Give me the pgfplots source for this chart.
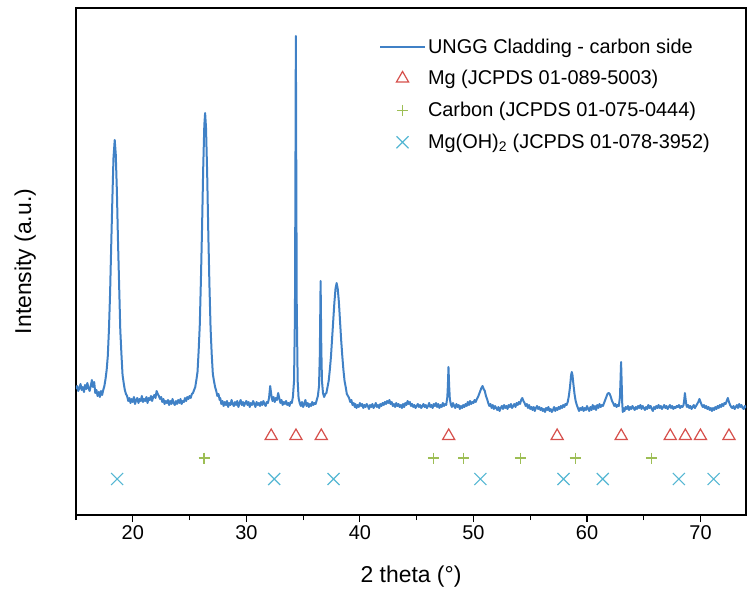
\documentclass[border=0pt]{standalone}
\usepackage{fontspec}
\setmainfont{Liberation Sans}
\usepackage{pgfplots}
\pgfplotsset{compat=1.18}
\definecolor{lineblue}{HTML}{4081C6}
\definecolor{mgred}{HTML}{D6504C}
\definecolor{cgreen}{HTML}{9DBE55}
\definecolor{ohcyan}{HTML}{55B7D3}
\begin{document}
\begin{tikzpicture}
\path[use as bounding box] (-76bp,-74bp) rectangle (672bp,515bp);
\begin{axis}[
  at={(0,0)}, anchor=south west,
  scale only axis, width=670bp, height=507bp,
  xmin=15, xmax=74, ymin=0, ymax=507,
  axis line style={line width=1.2bp},
  xtick={20,30,...,70}, minor xtick={15,25,...,65},
  xtick pos=left, ytick=\empty,
  tick align=outside, major tick length=7bp, minor tick length=5bp,
  every tick/.style={black, line width=1.2bp},
  ticklabel style={font=\fontsize{20}{24}\selectfont},
  /pgf/number format/assume math mode=true,
  xlabel={2 theta (°)}, ylabel={Intensity (a.u.)},
  label style={font=\fontsize{23}{27}\selectfont},
  xlabel style={at={(axis description cs:0.5,-0.122)}, anchor=center},
  ylabel style={at={(axis description cs:-0.076,0.5)}, anchor=center},
  legend cell align=left,
  legend style={at={(0.452,0.944)}, anchor=north west, draw=none, fill=none,
    font=\fontsize{20}{24}\selectfont, row sep=12bp, inner sep=0pt},
  legend image code/.code={\draw[mark repeat=2,mark phase=2,#1] plot coordinates {(0bp,0bp) (22.5bp,0bp) (45bp,0bp)};},
]
\addplot[lineblue, line width=2bp, line join=round, mark=none] coordinates {
(15.0,126) (15.1,129) (15.2,124) (15.3,127) (15.4,131) (15.5,125) (15.6,128) (15.7,123) (15.8,130) (15.9,126)
(16.0,132) (16.1,127) (16.2,124) (16.3,129) (16.4,135) (16.5,128) (16.6,133) (16.7,122) (16.8,125) (16.9,119)
(17.0,123) (17.1,118) (17.2,124) (17.3,120) (17.4,125) (17.5,129) (17.6,136) (17.7,145) (17.8,159) (17.9,185)
(18.0,221) (18.1,269) (18.2,315) (18.3,357) (18.41,375) (18.5,361) (18.6,324) (18.7,273) (18.8,229) (18.9,185)
(19.0,161) (19.1,140) (19.2,132) (19.3,125) (19.4,121) (19.5,119) (19.6,114) (19.7,117) (19.8,112) (19.9,116)
(20.0,113) (20.1,118) (20.2,111) (20.3,115) (20.4,117) (20.5,112) (20.6,116) (20.7,114) (20.8,119) (20.9,113)
(21.0,116) (21.1,114) (21.2,118) (21.3,112) (21.4,117) (21.5,115) (21.6,119) (21.7,114) (21.8,118) (21.9,120)
(22.0,117) (22.1,124) (22.2,121) (22.3,119) (22.4,116) (22.5,118) (22.6,113) (22.7,116) (22.8,111) (22.9,114)
(23.0,112) (23.1,115) (23.2,110) (23.3,114) (23.4,111) (23.5,116) (23.6,112) (23.7,110) (23.8,114) (23.9,111)
(24.0,115) (24.1,112) (24.2,116) (24.3,111) (24.4,114) (24.5,113) (24.6,117) (24.7,114) (24.8,118) (24.9,116)
(25.0,119) (25.1,117) (25.2,121) (25.3,122) (25.4,125) (25.5,128) (25.6,135) (25.7,143) (25.8,164) (25.9,190)
(26.0,235) (26.1,287) (26.2,346) (26.3,390) (26.37,402) (26.45,387) (26.55,342) (26.65,282) (26.75,230) (26.85,187)
(26.95,161) (27.05,141) (27.15,134) (27.25,128) (27.35,124) (27.45,119) (27.55,121) (27.65,115) (27.7,117) (27.8,111)
(27.9,114) (28.0,109) (28.1,113) (28.2,110) (28.3,114) (28.4,108) (28.5,112) (28.6,110) (28.7,115) (28.8,111)
(28.9,109) (29.0,113) (29.1,110) (29.2,114) (29.3,108) (29.4,112) (29.5,115) (29.6,110) (29.7,113) (29.8,109)
(29.9,112) (30.0,114) (30.1,110) (30.2,113) (30.3,108) (30.4,112) (30.5,110) (30.6,114) (30.7,111) (30.8,108)
(30.9,113) (31.0,110) (31.1,112) (31.2,109) (31.3,113) (31.4,110) (31.5,114) (31.6,111) (31.7,109) (31.8,113)
(31.9,112) (32.0,117) (32.1,129) (32.2,120) (32.3,114) (32.4,118) (32.5,113) (32.6,117) (32.7,115) (32.8,122)
(32.9,117) (33.0,112) (33.1,115) (33.2,110) (33.3,113) (33.4,111) (33.5,114) (33.6,110) (33.7,112) (33.8,109)
(33.9,113) (34.0,112) (34.1,118) (34.2,134) (34.28,200) (34.32,330) (34.36,479) (34.40,338) (34.44,208) (34.52,134)
(34.6,117) (34.7,112) (34.8,109) (34.9,113) (35.0,108) (35.1,111) (35.2,115) (35.3,109) (35.4,112) (35.5,108)
(35.6,111) (35.7,109) (35.8,113) (35.9,110) (36.0,112) (36.1,111) (36.2,115) (36.3,119) (36.4,129) (36.47,160)
(36.54,234) (36.6,168) (36.66,134) (36.75,122) (36.85,118) (36.95,121) (37.05,122) (37.15,128) (37.25,134) (37.35,145)
(37.45,158) (37.55,176) (37.65,194) (37.75,212) (37.85,226) (37.95,232) (38.05,226) (38.15,213) (38.25,194) (38.35,175)
(38.45,159) (38.55,145) (38.65,134) (38.75,128) (38.85,121) (38.95,119) (39.05,117) (39.15,113) (39.25,115) (39.35,110)
(39.45,112) (39.55,108) (39.6,111) (39.7,107) (39.8,110) (39.9,108) (40.0,112) (40.1,109) (40.2,111) (40.3,107)
(40.4,110) (40.5,108) (40.6,111) (40.7,109) (40.8,106) (40.9,110) (41.0,108) (41.1,111) (41.2,107) (41.3,109)
(41.4,112) (41.5,108) (41.6,110) (41.7,107) (41.8,111) (41.9,109) (42.0,112) (42.1,110) (42.2,113) (42.3,111)
(42.4,114) (42.5,112) (42.6,115) (42.7,111) (42.8,113) (42.9,109) (43.0,111) (43.1,108) (43.2,112) (43.3,109)
(43.4,111) (43.5,108) (43.6,110) (43.7,107) (43.8,111) (43.9,108) (44.0,112) (44.1,110) (44.2,114) (44.3,111)
(44.4,113) (44.5,109) (44.6,111) (44.7,108) (44.8,110) (44.9,107) (45.0,109) (45.1,111) (45.2,108) (45.3,110)
(45.4,107) (45.5,109) (45.6,111) (45.7,108) (45.8,110) (45.9,107) (46.0,109) (46.1,112) (46.2,108) (46.3,110)
(46.4,107) (46.5,111) (46.6,109) (46.7,112) (46.8,108) (46.9,111) (47.0,107) (47.1,110) (47.2,108) (47.3,112)
(47.4,109) (47.5,111) (47.6,110) (47.7,118) (47.75,130) (47.8,148) (47.86,129) (47.92,116) (48.0,111) (48.1,108)
(48.2,112) (48.3,109) (48.4,107) (48.5,111) (48.6,108) (48.7,110) (48.8,106) (48.9,109) (49.0,107) (49.1,110)
(49.2,108) (49.3,111) (49.4,109) (49.5,113) (49.6,110) (49.7,114) (49.8,111) (49.9,113) (50.0,112) (50.1,115)
(50.2,113) (50.3,116) (50.4,118) (50.5,121) (50.6,124) (50.7,127) (50.8,129) (50.9,126) (51.0,124) (51.1,119)
(51.2,116) (51.3,112) (51.4,109) (51.5,111) (51.6,107) (51.7,110) (51.8,106) (51.9,109) (52.0,107) (52.1,105)
(52.2,108) (52.3,104) (52.4,107) (52.5,109) (52.6,106) (52.7,110) (52.8,107) (52.9,109) (53.0,106) (53.1,110)
(53.2,108) (53.3,111) (53.4,107) (53.5,109) (53.6,111) (53.7,108) (53.8,112) (53.9,110) (54.0,113) (54.1,111)
(54.2,115) (54.3,117) (54.4,114) (54.5,112) (54.6,109) (54.7,111) (54.8,107) (54.9,110) (55.0,106) (55.1,108)
(55.2,105) (55.3,108) (55.4,104) (55.5,107) (55.6,109) (55.7,106) (55.8,108) (55.9,105) (56.0,107) (56.1,104)
(56.2,106) (56.3,103) (56.4,107) (56.5,105) (56.6,108) (56.7,104) (56.8,106) (56.9,103) (57.0,105) (57.1,108)
(57.2,104) (57.3,107) (57.4,105) (57.5,108) (57.6,106) (57.7,109) (57.8,107) (57.9,110) (58.0,108) (58.1,111)
(58.2,110) (58.3,113) (58.4,119) (58.5,128) (58.6,140) (58.66,143) (58.72,140) (58.8,131) (58.9,121) (59.0,114)
(59.1,110) (59.2,107) (59.3,104) (59.4,107) (59.5,105) (59.6,108) (59.7,104) (59.8,107) (59.9,105) (60.0,109)
(60.1,106) (60.2,104) (60.3,108) (60.4,105) (60.5,110) (60.6,106) (60.7,109) (60.8,105) (60.9,110) (61.0,107)
(61.1,111) (61.2,108) (61.3,110) (61.4,109) (61.5,112) (61.6,115) (61.7,118) (61.8,121) (61.9,122) (62.0,121)
(62.1,118) (62.2,114) (62.3,112) (62.4,109) (62.5,111) (62.6,108) (62.7,110) (62.8,109) (62.9,118) (62.95,135)
(63.0,153) (63.05,133) (63.1,112) (63.15,103) (63.2,107) (63.3,104) (63.4,108) (63.5,106) (63.6,109) (63.7,105)
(63.8,108) (63.9,106) (64.0,109) (64.1,107) (64.2,105) (64.3,108) (64.4,106) (64.5,109) (64.6,107) (64.7,110)
(64.8,106) (64.9,109) (65.0,107) (65.1,105) (65.2,108) (65.3,106) (65.4,110) (65.5,107) (65.6,109) (65.7,106)
(65.8,104) (65.9,108) (66.0,106) (66.1,109) (66.2,107) (66.3,110) (66.4,107) (66.5,109) (66.6,106) (66.7,108)
(66.8,110) (66.9,107) (67.0,109) (67.1,106) (67.2,108) (67.3,110) (67.4,107) (67.5,109) (67.6,106) (67.7,108)
(67.8,107) (67.9,109) (68.0,108) (68.1,110) (68.2,107) (68.3,109) (68.4,108) (68.5,110) (68.56,115) (68.62,122)
(68.68,116) (68.75,110) (68.8,108) (68.9,110) (69.0,107) (69.1,109) (69.2,106) (69.3,108) (69.4,110) (69.5,107)
(69.6,109) (69.7,111) (69.8,113) (69.9,116) (70.0,113) (70.1,110) (70.2,108) (70.3,110) (70.4,107) (70.5,109)
(70.6,106) (70.7,108) (70.8,105) (70.9,107) (71.0,104) (71.1,107) (71.2,105) (71.3,108) (71.4,106) (71.5,109)
(71.6,107) (71.7,110) (71.8,108) (71.9,111) (72.0,109) (72.1,112) (72.2,111) (72.3,114) (72.4,117) (72.5,113)
(72.6,110) (72.7,108) (72.8,107) (72.9,109) (73.0,106) (73.1,108) (73.2,110) (73.3,107) (73.4,111) (73.5,108)
(73.6,110) (73.7,107) (73.8,106) (73.9,109) (74.0,107)
};
\addlegendentry{UNGG Cladding - carbon side}
\addplot[only marks, mark=triangle, mgred, mark size=7bp, mark options={line width=1.2bp}] coordinates {
(32.19,79) (34.37,79) (36.60,79) (47.82,79) (57.37,79) (63.01,79) (67.33,79) (68.66,79) (69.99,79) (72.50,79)
};
\addlegendentry{Mg (JCPDS 01-089-5003)}
\addplot[only marks, mark=+, cgreen, mark size=5.5bp, mark options={line width=1.2bp}] coordinates {
(26.28,57) (46.47,57) (49.14,57) (54.14,57) (58.96,57) (65.66,57)
};
\addlegendentry{Carbon (JCPDS 01-075-0444)}
\addplot[only marks, mark=x, ohcyan, mark size=8.5bp, mark options={line width=1.2bp}] coordinates {
(18.62,36) (32.45,36) (37.68,36) (50.61,36) (57.93,36) (61.39,36) (68.09,36) (71.15,36)
};
\addlegendentry{Mg(OH)\textsubscript{2} (JCPDS 01-078-3952)}
\end{axis}
\end{tikzpicture}
\end{document}
